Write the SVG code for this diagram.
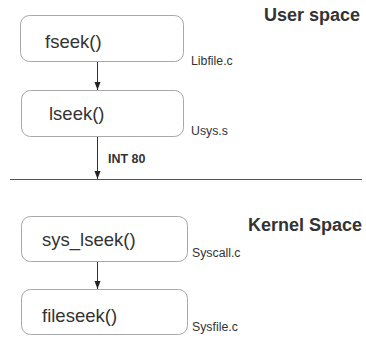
<svg xmlns="http://www.w3.org/2000/svg" width="366" height="338" viewBox="0 0 366 338">
<defs>
<style>
.box{fill:#fff;stroke:#a8a8a8;stroke-width:1}
.fn{font-family:"Liberation Sans",Arial,sans-serif;font-size:18.5px;fill:#333}
.lbl{font-family:"Liberation Sans",Arial,sans-serif;font-size:12.3px;fill:#333}
.hdr{font-family:"Liberation Sans",Arial,sans-serif;font-size:18px;font-weight:bold;fill:#333}
.int{font-family:"Liberation Sans",Arial,sans-serif;font-size:12.5px;font-weight:bold;fill:#333}
.edge{stroke:#333;stroke-width:1;fill:none}
</style>
<marker id="ah" markerWidth="8" markerHeight="7" refX="8" refY="3" orient="auto" markerUnits="userSpaceOnUse">
<path d="M0,0 L8,3 L0,6 z" fill="#222"/>
</marker>
</defs>
<rect width="366" height="338" fill="#fff"/>
<text class="hdr" x="264" y="21">User space</text>
<text class="hdr" x="248" y="231">Kernel Space</text>
<line x1="10" y1="179.5" x2="362" y2="179.5" stroke="#555" stroke-width="1"/>
<g id="connectors">
<line class="edge" x1="97.5" y1="62" x2="97.5" y2="90" marker-end="url(#ah)"/>
<line class="edge" x1="97.5" y1="137" x2="97.5" y2="179" marker-end="url(#ah)"/>
<line class="edge" x1="97.5" y1="262" x2="97.5" y2="289" marker-end="url(#ah)"/>
<text class="int" x="108" y="163">INT 80</text>
</g>
<g id="fseek">
<rect class="box" x="20.5" y="15.5" width="163" height="46" rx="9"/>
<text class="fn" x="45" y="48">fseek()</text>
<text class="lbl" x="191" y="65">Libfile.c</text>
</g>
<g id="lseek">
<rect class="box" x="21.5" y="90.5" width="162" height="46" rx="9"/>
<text class="fn" x="49" y="120">lseek()</text>
<text class="lbl" x="191" y="135">Usys.s</text>
</g>
<g id="sys_lseek">
<rect class="box" x="21.5" y="216.5" width="166" height="45" rx="9"/>
<text class="fn" x="42" y="246">sys_lseek()</text>
<text class="lbl" x="192" y="257">Syscall.c</text>
</g>
<g id="fileseek">
<rect class="box" x="21.5" y="289.5" width="166" height="45" rx="9"/>
<text class="fn" x="42" y="322">fileseek()</text>
<text class="lbl" x="192" y="331">Sysfile.c</text>
</g>
</svg>
